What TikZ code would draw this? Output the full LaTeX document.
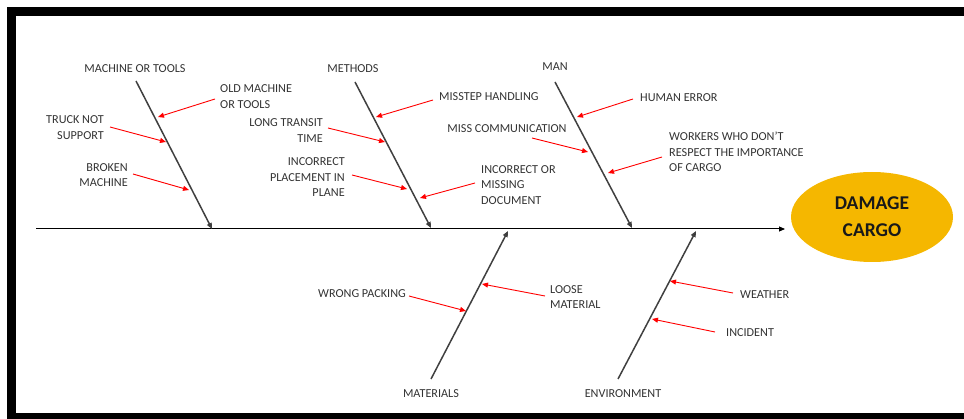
\documentclass[tikz,border=0pt]{standalone}
\usepackage{fontspec}
\setmainfont{Carlito}
\usetikzlibrary{arrows.meta,shapes.geometric}
\definecolor{bonegray}{HTML}{404040}
\definecolor{labelgray}{HTML}{333333}
\definecolor{cargo}{HTML}{F5B700}
\begin{document}
\begin{tikzpicture}[x=1pt,y=-1pt,
  lbl/.style={inner sep=0pt,text=labelgray,font=\fontsize{12.2}{15.5}\selectfont},
  lblL/.style={lbl,align=left,anchor=west},
  lblR/.style={lbl,align=right,anchor=east},
  lblC/.style={lbl,align=center},
  bone/.style={draw=bonegray,line width=1.5pt,-{Triangle[length=6pt,width=5pt,fill=black]}},
  cause/.style={draw=red,line width=0.9pt,-{Triangle[length=6pt,width=5pt]}},
  spine/.style={draw=black,line width=1pt,-{Triangle[length=6pt,width=5pt]}}]
\useasboundingbox (0,0) rectangle (964,419);
% frame (left, top and bottom bars; the right side lies outside the picture)
\fill[black] (7,7) rectangle (15.5,419);
\fill[black] (7,7) rectangle (964,16);
\fill[black] (7,413) rectangle (964,419);
% effect
\node[ellipse,fill=cargo,minimum width=162pt,minimum height=90pt,inner sep=0pt,align=center,
  font=\fontsize{19.5}{27}\selectfont\bfseries,text=black!90] (effect) at (872,217) {DAMAGE\\CARGO};
% spine
\coordinate (sp0) at (36,229);
\coordinate (sp1) at (785,229);
\draw[spine] (sp0) -- (sp1);
% category labels
\node[lblC] (mt) at (135,69) {MACHINE OR TOOLS};
\node[lblC] (me) at (353,69) {METHODS};
\node[lblC] (mn) at (555,67) {MAN};
\node[lblC] (ma) at (431,394) {MATERIALS};
\node[lblC] (en) at (623,394) {ENVIRONMENT};
% bones
\coordinate (mtT) at (136,81);  \coordinate (mtB) at (212,229);
\coordinate (meT) at (355,82);  \coordinate (meB) at (431,228);
\coordinate (mnT) at (555,82);  \coordinate (mnB) at (632,228);
\coordinate (maB) at (431,379); \coordinate (maT) at (508,231);
\coordinate (enB) at (618,379); \coordinate (enT) at (696,231);
\draw[bone] (mtT) -- (mtB);
\draw[bone] (meT) -- (meB);
\draw[bone] (mnT) -- (mnB);
\draw[bone] (maB) -- (maT);
\draw[bone] (enB) -- (enT);
% cause labels
\node[lblL] (old) at (220,96.5) {OLD MACHINE\\OR TOOLS};
\node[lblR] (truck) at (104,127.5) {TRUCK NOT\\SUPPORT};
\node[lblR] (broken) at (128,175) {BROKEN\\MACHINE};
\node[lblL] (misstep) at (439,97) {MISSTEP HANDLING};
\node[lblR] (long) at (323,130.5) {LONG TRANSIT\\TIME};
\node[lblR] (incp) at (345,177.5) {INCORRECT\\PLACEMENT IN\\PLANE};
\node[lblL] (inco) at (481,185) {INCORRECT OR\\MISSING\\DOCUMENT};
\node[lblL] (human) at (640,98) {HUMAN ERROR};
\node[lblC] (miss) at (507,129) {MISS COMMUNICATION};
\node[lblL] (workers) at (669,152) {WORKERS WHO DON’T\\RESPECT THE IMPORTANCE\\OF CARGO};
\node[lblC] (wrong) at (362,294) {WRONG PACKING};
\node[lblL] (loose) at (550,297) {LOOSE\\MATERIAL};
\node[lblL] (weather) at (740,295) {WEATHER};
\node[lblL] (incident) at (726,333) {INCIDENT};
% cause arrow endpoints
\coordinate (oldS) at (215,99);   \coordinate (oldE) at (158,117);
\coordinate (truckS) at (110,127);\coordinate (truckE) at (166,142);
\coordinate (brokenS) at (133,174);\coordinate (brokenE) at (189,190);
\coordinate (misstepS) at (433,100);\coordinate (misstepE) at (376,117);
\coordinate (longS) at (328,128); \coordinate (longE) at (385,142);
\coordinate (incpS) at (352,175); \coordinate (incpE) at (407,189);
\coordinate (incoS) at (475,183); \coordinate (incoE) at (420,198);
\coordinate (humanS) at (633,99); \coordinate (humanE) at (577,117);
\coordinate (missS) at (532,138); \coordinate (missE) at (588,152);
\coordinate (workersS) at (662,157);\coordinate (workersE) at (608,173);
\coordinate (wrongS) at (409,296);\coordinate (wrongE) at (466,311);
\coordinate (looseS) at (545,296);\coordinate (looseE) at (482,284);
\coordinate (weatherS) at (733,293);\coordinate (weatherE) at (670,281);
\coordinate (incidentS) at (715,332);\coordinate (incidentE) at (652,319);
\foreach \cc in {old,truck,broken,misstep,long,incp,inco,human,miss,workers,wrong,loose,weather,incident}
  \draw[cause] (\cc S) -- (\cc E);
\end{tikzpicture}
\end{document}
